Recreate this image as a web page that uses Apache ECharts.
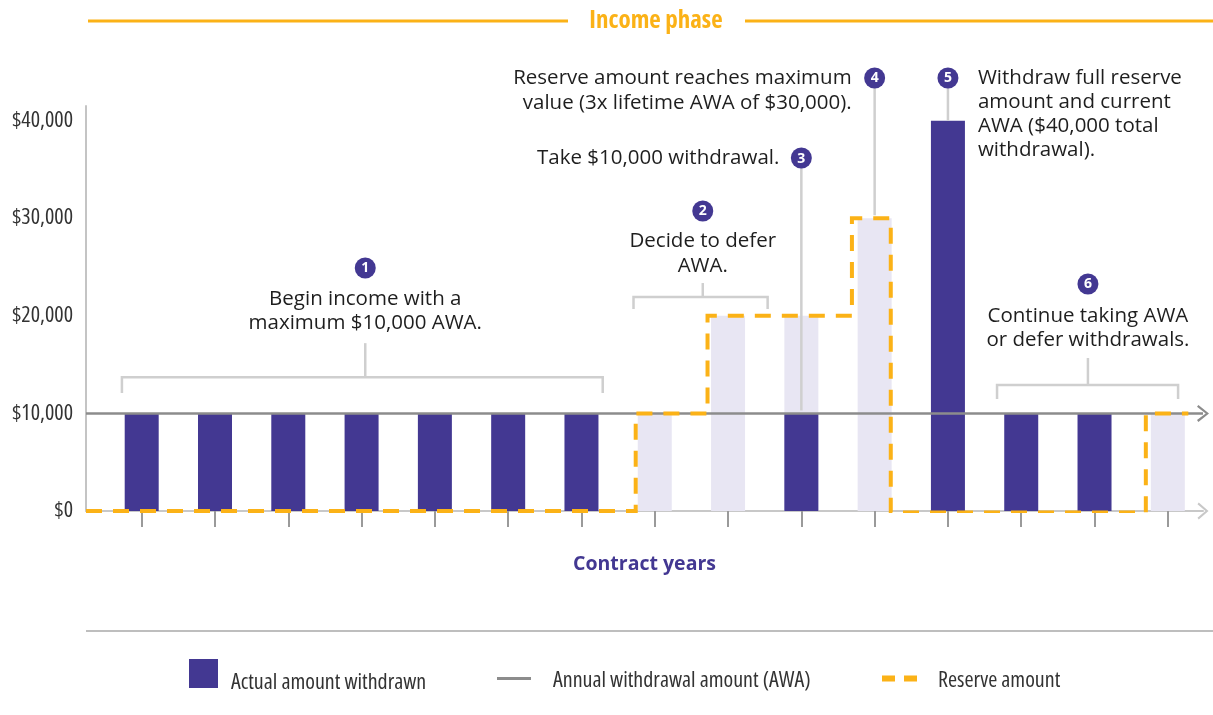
<!DOCTYPE html>
<html>
<head>
<meta charset="utf-8">
<script src="https://cdn.jsdelivr.net/npm/echarts@6.0.0/dist/echarts.min.js"></script>
<style>
html,body{margin:0;padding:0;background:#fff;}
#chart{width:1213px;height:715px;}
</style>
</head>
<body>
<div id="chart"></div>
<script>
// ---- data ----
const years = [1,2,3,4,5,6,7,8,9,10,11,12,13,14,15];
const actualWithdrawn = [10000,10000,10000,10000,10000,10000,10000,0,0,10000,0,40000,10000,10000,0];
const availableAmount = [0,0,0,0,0,0,0,10000,20000,20000,30000,0,0,0,10000];
const awaValue = 10000;
const reserveX = [0.24, 7.74, 7.74, 8.72, 8.72, 10.69, 10.69, 11.22, 11.22, 14.7, 14.7, 15.28];
const reserveY = [0, 0, 10000, 10000, 20000, 20000, 30000, 30000, -150, -150, 10000, 10000];
const yTickValues = [0, 10000, 20000, 30000, 40000];

const PURPLE = '#433892';
const LIGHT = '#E8E6F3';
const ORANGE = '#FBB217';
const SANS = '"Open Sans","Noto Sans",sans-serif';
const CHEVRON = 'path://M0,11.5 L10,0 L20,11.5 L17.8,13 L10,3.6 L2.2,13 Z';

const chart = echarts.init(document.getElementById('chart'), null, {renderer:'canvas'});

const legendText = (padLeft, padTop) => ({
  rich: { t: { fontStyle: 'condensed', fontFamily: '"Open Sans"', fontSize: 22, color: '#333', padding: [padTop, 0, 0, padLeft] } }
});

chart.setOption({
  animation: false,
  grid: { left: 86, right: 10, top: 106, bottom: 204 },
  xAxis: {
    type: 'value', min: 0.24, max: 15.48,
    name: 'Contract years', nameLocation: 'middle', nameGap: 43,
    nameTextStyle: { fontFamily: SANS, fontWeight: 'bold', fontSize: 19.5, color: PURPLE },
    axisLine: { show: true, onZero: false, lineStyle: { color: '#c8c8c8', width: 2 },
      symbol: ['none', CHEVRON], symbolSize: [17, 12] },
    axisTick: { show: true, customValues: years, length: 16, lineStyle: { color: '#9a9a9a', width: 2 } },
    axisLabel: { show: false },
    splitLine: { show: false }
  },
  yAxis: {
    type: 'value', min: 0, max: 41500, interval: 10000,
    axisLine: { show: true, lineStyle: { color: '#c4c4c4', width: 2 } },
    axisTick: { show: false },
    splitLine: { show: false },
    axisLabel: {
      margin: 13, fontStyle: 'condensed', fontFamily: '"Open Sans"', fontSize: 22, color: '#333',
      formatter: v => yTickValues.indexOf(v) >= 0 ? '$' + v.toLocaleString('en-US') : ''
    }
  },
  legend: [
    { data: [{ name: 'Actual amount withdrawn', icon: 'rect', itemStyle: { color: PURPLE } }],
      left: 189, top: 659, padding: 0, itemWidth: 29, itemHeight: 29, selectedMode: false,
      formatter: n => '{t|' + n + '}', textStyle: legendText(8, 18) },
    { data: [{ name: 'Annual withdrawal amount (AWA)', icon: 'rect', itemStyle: { color: '#8c8c8c', borderWidth: 0 } }],
      left: 497, top: 670, padding: 0, itemWidth: 34, itemHeight: 3, selectedMode: false,
      formatter: n => '{t|' + n + '}', textStyle: legendText(17, 5) },
    { data: [{ name: 'Reserve amount', icon: 'path://M0,0 H13 V6 H0 Z M22,0 H35 V6 H22 Z', itemStyle: { color: ORANGE, borderWidth: 0 } }],
      left: 882, top: 670, padding: 0, itemWidth: 35, itemHeight: 6, selectedMode: false,
      formatter: n => '{t|' + n + '}', textStyle: legendText(16, 5) }
  ],
  series: [
    { name: 'Available amount', type: 'bar', barWidth: 34, barGap: '-100%', z: 2,
      itemStyle: { color: LIGHT }, silent: true,
      data: years.map((x, i) => availableAmount[i] ? [x, availableAmount[i]] : null).filter(Boolean) },
    { name: 'Actual amount withdrawn', type: 'bar', barWidth: 34, barGap: '-100%', z: 3,
      itemStyle: { color: PURPLE }, silent: true,
      data: years.map((x, i) => actualWithdrawn[i] ? [x, actualWithdrawn[i]] : null).filter(Boolean) },
    { name: 'Annual withdrawal amount (AWA)', type: 'line', z: 5, color: '#8c8c8c',
      data: [], silent: true,
      markLine: { silent: true, symbol: ['none', CHEVRON], symbolSize: [17, 12],
        label: { show: false }, emphasis: { disabled: true },
        lineStyle: { color: '#8c8c8c', width: 2.5, type: 'solid' },
        data: [{ yAxis: awaValue }] } },
    { name: 'Reserve amount', type: 'line', z: 6, color: ORANGE, symbol: 'none', silent: true,
      lineStyle: { color: ORANGE, width: 4, type: [16, 11], cap: 'butt', join: 'miter' },
      data: reserveX.map((x, i) => [x, reserveY[i]]) }
  ]
});

// ---- annotations (anchored in data coordinates) ----
const annotations = [
  { n: '1', x: 4.05, y: 24900, lines: ['Begin income with a', 'maximum $10,000 AWA.'], align: 'center', dx: 0, dy0: 31, lh: 24,
    bracket: { x0: 0.73, x1: 7.29, y: 13700, leg: 12100, stem: 17200 } },
  { n: '2', x: 8.655, y: 30740, lines: ['Decide to defer', 'AWA.'], align: 'center', dx: 0, dy0: 30, lh: 25,
    bracket: { x0: 7.71, x1: 9.54, y: 21930, leg: 20700, stem: 23360 } },
  { n: '3', x: 10, y: 36170, lines: ['Take $10,000 withdrawal.'], align: 'right', dx: -22, dy0: 0, lh: 24, leader: 10300 },
  { n: '4', x: 11, y: 44370, lines: ['Reserve amount reaches maximum', 'value (3x lifetime AWA of $30,000).'], align: 'right', dx: -23, dy0: 0, lh: 25, leader: 30300 },
  { n: '5', x: 12, y: 44370, lines: ['Withdraw full reserve', 'amount and current', 'AWA ($40,000 total', 'withdrawal).'], align: 'left', dx: 30, dy0: 0, lh: 24, leader: 40000 },
  { n: '6', x: 13.91, y: 23260, lines: ['Continue taking AWA', 'or defer withdrawals.'], align: 'center', dx: 0, dy0: 32, lh: 24,
    bracket: { x0: 12.67, x1: 15.14, y: 12910, leg: 11480, stem: 15680 } }
];

function px(x, y) { return chart.convertToPixel({ xAxisIndex: 0, yAxisIndex: 0 }, [x, y]); }

const GRAY = '#cfcfcf';
const g = [];
// header
g.push({ type: 'line', shape: { x1: 88, y1: 21, x2: 568, y2: 21 }, style: { stroke: ORANGE, lineWidth: 3 } });
g.push({ type: 'line', shape: { x1: 745, y1: 21, x2: 1213, y2: 21 }, style: { stroke: ORANGE, lineWidth: 3 } });
g.push({ type: 'text', x: 656, y: 21, style: { text: 'Income phase', fill: ORANGE, font: 'bold condensed 25px "Open Sans"', align: 'center', verticalAlign: 'middle' } });
// separator
g.push({ type: 'line', shape: { x1: 86, y1: 631, x2: 1213, y2: 631 }, style: { stroke: '#a8a8a8', lineWidth: 1.5 } });

annotations.forEach(a => {
  const c = px(a.x, a.y);
  if (a.bracket) {
    const b = a.bracket;
    const p0 = px(b.x0, b.y), p1 = px(b.x1, b.y), pl = px(b.x0, b.leg), ps = px(a.x, b.stem), pm = px(a.x, b.y);
    g.push({ type: 'polyline', z: 10, shape: { points: [[pl[0], pl[1]], [p0[0], p0[1]], [p1[0], p1[1]], [p1[0], pl[1]]] },
      style: { stroke: GRAY, lineWidth: 2.5, fill: null } });
    g.push({ type: 'line', z: 10, shape: { x1: pm[0], y1: pm[1], x2: ps[0], y2: ps[1] }, style: { stroke: GRAY, lineWidth: 2.5 } });
  }
  if (a.leader !== undefined) {
    const e = px(a.x, a.leader);
    g.push({ type: 'line', z: 10, shape: { x1: c[0], y1: c[1], x2: e[0], y2: e[1] }, style: { stroke: GRAY, lineWidth: 2.5 } });
  }
  g.push({ type: 'circle', z: 11, shape: { cx: c[0], cy: c[1], r: 10.5 }, style: { fill: PURPLE } });
  g.push({ type: 'text', z: 12, x: c[0], y: c[1] + 0.5, style: { text: a.n, fill: '#fff', font: 'bold 14px ' + SANS, align: 'center', verticalAlign: 'middle' } });
  a.lines.forEach((t, i) => {
    g.push({ type: 'text', z: 12, x: c[0] + a.dx, y: c[1] + a.dy0 + i * a.lh,
      style: { text: t, fill: '#1e1e1e', font: '20.5px ' + SANS, align: a.align, verticalAlign: 'middle' } });
  });
});

chart.setOption({ graphic: { elements: g } });
</script>
</body>
</html>
